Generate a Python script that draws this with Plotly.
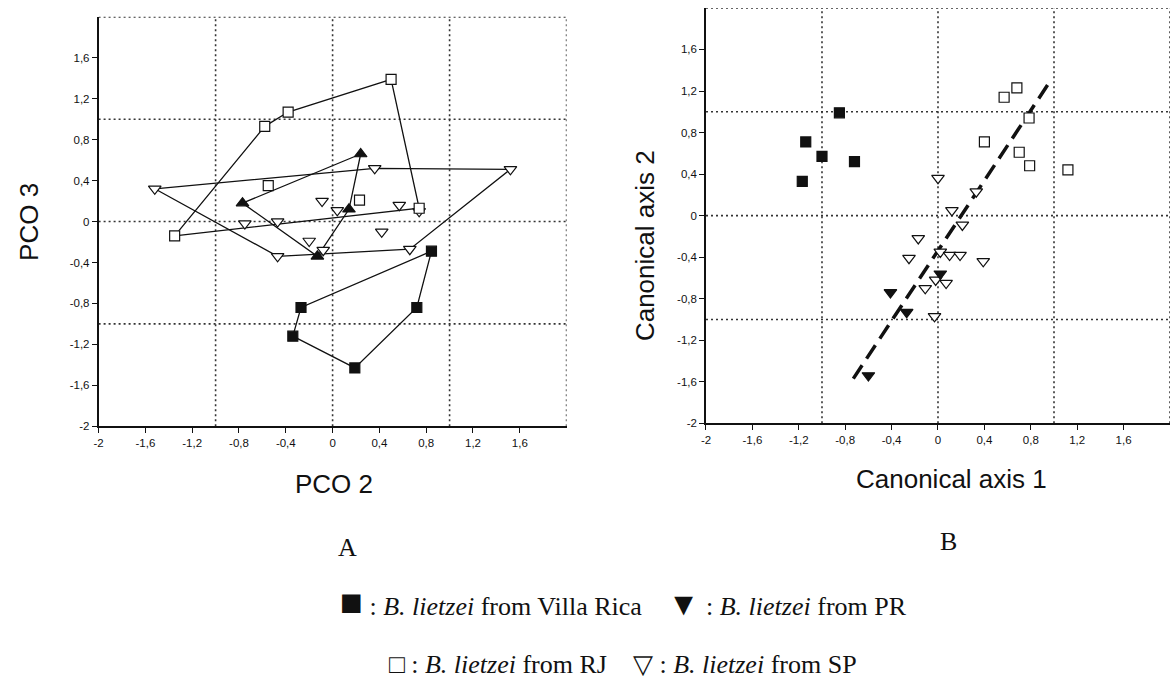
import plotly.graph_objects as go

# ---------------- data ----------------
tick_vals = [-2, -1.6, -1.2, -0.8, -0.4, 0, 0.4, 0.8, 1.2, 1.6]
tick_text = ["-2", "-1,6", "-1,2", "-0,8", "-0,4", "0", "0,4", "0,8", "1,2", "1,6"]
grid_vals = [-1, 0, 1, 2]

# Panel A (PCO 2 vs PCO 3)
vr_a_x = [0.845, -0.27, -0.34, 0.19, 0.72]
vr_a_y = [-0.29, -0.84, -1.12, -1.43, -0.84]
vr_a_hull = [0, 1, 2, 3, 4]

pr_a_x = [-0.77, 0.24, 0.14, -0.13]
pr_a_y = [0.18, 0.66, 0.12, -0.34]
pr_a_hull = [0, 1, 2, 3]

rj_a_x = [-1.35, -0.58, -0.38, 0.50, 0.74, -0.55, 0.23]
rj_a_y = [-0.14, 0.93, 1.07, 1.39, 0.13, 0.35, 0.21]
rj_a_hull = [0, 1, 2, 3, 4]

sp_a_x = [-1.52, 0.36, 1.52, 0.66, -0.47, -0.09, 0.04, 0.57, 0.74, -0.75, -0.47, 0.42, -0.20, -0.08]
sp_a_y = [0.32, 0.52, 0.51, -0.27, -0.34, 0.20, 0.11, 0.16, 0.10, -0.02, 0.00, -0.10, -0.19, -0.28]
sp_a_hull = [0, 1, 2, 3, 4]

# Panel B (Canonical axis 1 vs 2)
vr_b_x = [-0.85, -1.14, -1.00, -0.72, -1.17]
vr_b_y = [0.99, 0.71, 0.57, 0.52, 0.33]

pr_b_x = [0.02, -0.41, -0.27, -0.60]
pr_b_y = [-0.56, -0.74, -0.93, -1.54]

rj_b_x = [0.68, 0.57, 0.785, 0.40, 0.70, 0.79, 1.12]
rj_b_y = [1.23, 1.14, 0.94, 0.71, 0.61, 0.48, 0.44]

sp_b_x = [0.00, 0.33, 0.12, 0.21, -0.17, -0.25, 0.02, 0.10, 0.19, 0.39, -0.02, 0.07, -0.11, -0.03]
sp_b_y = [0.36, 0.23, 0.05, -0.09, -0.22, -0.41, -0.35, -0.38, -0.38, -0.44, -0.62, -0.65, -0.70, -0.97]

fit_b_x = [-0.73, 0.97]
fit_b_y = [-1.57, 1.30]

# ---------------- figure ----------------
W, H = 1170, 686
INK = "#111111"
fig = go.Figure()


def closed(xs, ys, idx):
    order = idx + [idx[0]]
    return [xs[i] for i in order], [ys[i] for i in order]


def hull_line(xs, ys, idx):
    hx, hy = closed(xs, ys, idx)
    fig.add_trace(go.Scatter(x=hx, y=hy, mode="lines", xaxis="x", yaxis="y",
                             line=dict(color=INK, width=1.3), hoverinfo="skip",
                             showlegend=False))


def pts(xs, ys, symbol, filled, size, ax="x", ay="y"):
    fig.add_trace(go.Scatter(
        x=xs, y=ys, mode="markers", xaxis=ax, yaxis=ay, showlegend=False,
        marker=dict(symbol=symbol, size=size,
                    color=INK if filled else "white",
                    line=dict(color=INK, width=1.2))))


# panel A hulls
hull_line(vr_a_x, vr_a_y, vr_a_hull)
hull_line(pr_a_x, pr_a_y, pr_a_hull)
hull_line(rj_a_x, rj_a_y, rj_a_hull)
hull_line(sp_a_x, sp_a_y, sp_a_hull)
# panel A points
pts(sp_a_x, sp_a_y, "triangle-down", False, 11)
pts(rj_a_x, rj_a_y, "square", False, 10)
pts(pr_a_x, pr_a_y, "triangle-up", True, 11)
pts(vr_a_x, vr_a_y, "square", True, 10)

# panel B
fig.add_trace(go.Scatter(x=fit_b_x, y=fit_b_y, mode="lines", xaxis="x2", yaxis="y2",
                         line=dict(color=INK, width=3.5, dash="16px,8px"),
                         hoverinfo="skip", showlegend=False))
pts(sp_b_x, sp_b_y, "triangle-down", False, 11, "x2", "y2")
pts(rj_b_x, rj_b_y, "square", False, 10, "x2", "y2")
pts(pr_b_x, pr_b_y, "triangle-down", True, 11, "x2", "y2")
pts(vr_b_x, vr_b_y, "square", True, 10, "x2", "y2")

# dotted grid / frame
shapes = []
for xr, yr in (("x", "y"), ("x2", "y2")):
    for g in grid_vals:
        shapes.append(dict(type="line", xref=xr, yref=yr, x0=g, x1=g, y0=-2, y1=2,
                           line=dict(color="#333333", width=1.6, dash="2px,3px"), layer="below"))
        shapes.append(dict(type="line", xref=xr, yref=yr, x0=-2, x1=2, y0=g, y1=g,
                           line=dict(color="#333333", width=1.6, dash="2px,3px"), layer="below"))

tickfont = dict(family="Liberation Sans Narrow, Arial Narrow, Liberation Sans, Arial", size=11.5, color=INK)
axis_common = dict(range=[-2, 2], tickmode="array", tickvals=tick_vals, ticktext=tick_text,
                   ticks="outside", ticklen=5, tickwidth=1.2, tickcolor=INK,
                   showline=True, linewidth=1.6, linecolor=INK, showgrid=False,
                   zeroline=False, tickfont=tickfont, fixedrange=True)


def px_x(p):
    return p / W


def px_y(p):
    return 1 - p / H


fig.update_layout(
    width=W, height=H, margin=dict(l=0, r=0, t=0, b=0),
    paper_bgcolor="white", plot_bgcolor="white", showlegend=False,
    shapes=shapes,
    xaxis=dict(domain=[px_x(94), px_x(564)], anchor="y", **axis_common),
    yaxis=dict(domain=[px_y(430), px_y(17)], anchor="x", **axis_common),
    xaxis2=dict(domain=[px_x(704), 1.0], anchor="y2", **axis_common),
    yaxis2=dict(domain=[px_y(427), px_y(8)], anchor="x2", **axis_common),
)

sans = "Liberation Sans, Arial, sans-serif"
serif = "Liberation Serif, Times New Roman, serif"
gap = "\u00a0\u00a0\u00a0\u00a0"
big = '<span style="font-size:38px">{}</span>'
mid = '<span style="font-size:32px">{}</span>'
ann = [
    dict(text="PCO 2", x=px_x(330), y=px_y(488), font=dict(family=sans, size=26, color=INK)),
    dict(text="PCO 3", x=px_x(24), y=px_y(224), textangle=-90, font=dict(family=sans, size=26, color=INK)),
    dict(text="Canonical axis 1", x=px_x(951), y=px_y(483), font=dict(family=sans, size=26, color=INK)),
    dict(text="Canonical axis 2", x=px_x(643), y=px_y(248), textangle=-90, font=dict(family=sans, size=26, color=INK)),
    dict(text="A", x=px_x(344), y=px_y(552), font=dict(family=serif, size=26, color=INK)),
    dict(text="B", x=px_x(948), y=px_y(546), font=dict(family=serif, size=26, color=INK)),
    dict(text=big.format("\u25A0") + " : <i>B. lietzei</i> from Villa Rica" + gap + mid.format("\u25BC")
         + " : <i>B. lietzei</i> from PR",
         x=px_x(621), y=px_y(607), font=dict(family=serif, size=26, color=INK)),
    dict(text="\u25A1 : <i>B. lietzei</i> from RJ" + gap + "\u25BD : <i>B. lietzei</i> from SP",
         x=px_x(621), y=px_y(670), font=dict(family=serif, size=26, color=INK)),
]
for a in ann:
    a.update(xref="paper", yref="paper", showarrow=False, xanchor="center", yanchor="middle")
fig.update_layout(annotations=ann)

fig.write_html("out.html", config={"displayModeBar": False},
               post_script="document.body.style.margin='0px';document.body.style.overflow='hidden';")
